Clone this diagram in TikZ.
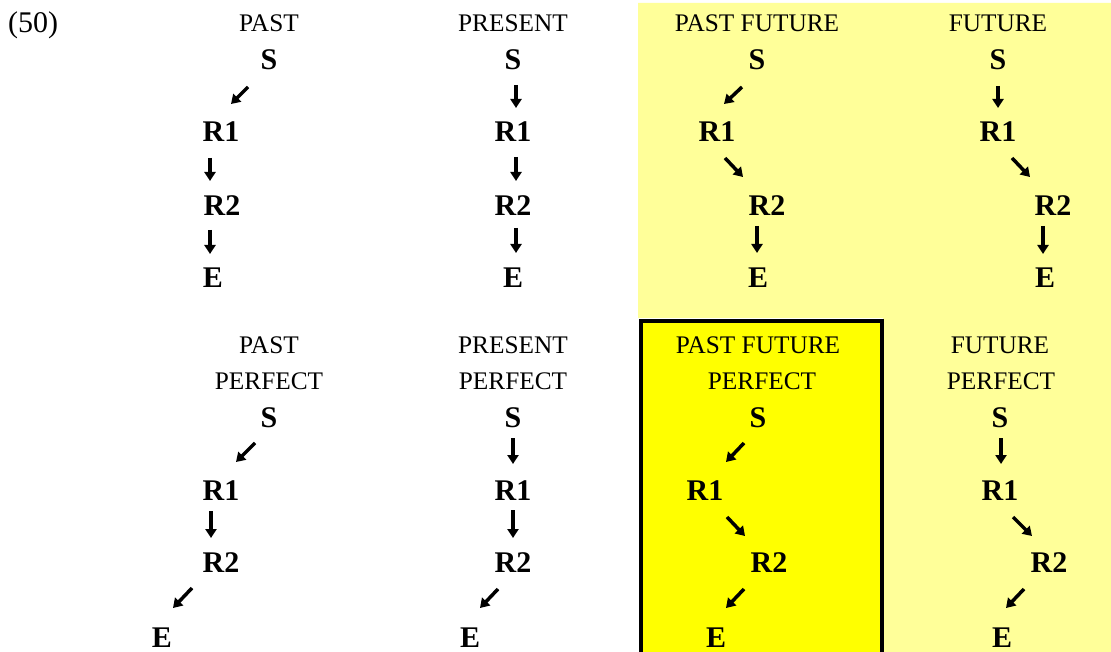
\documentclass[tikz,border=0pt]{standalone}
\usepackage{fontspec}
\setmainfont{Liberation Serif}
\usetikzlibrary{arrows.meta}
\definecolor{lightyel}{RGB}{255,255,153}
\definecolor{brightyel}{RGB}{255,255,0}
\newcommand\myarrow[3]{%
  \coordinate (#1s) at (#2);%
  \coordinate (#1e) at (#3);%
  \draw[arw] (#1s) -- (#1e);}
\begin{document}
\begin{tikzpicture}[x=1pt,y=-1pt,
  lab/.style={anchor=base,inner sep=0pt,font=\fontsize{25.3}{30}\selectfont},
  bl/.style={anchor=base,inner sep=0pt,font=\fontsize{30}{36}\selectfont\bfseries},
  arw/.style={line width=3.5pt,-{Triangle[width=11pt,length=9pt]}}]
\useasboundingbox (0,0) rectangle (1111,652);
% backgrounds
\fill[lightyel] (638,3) -- (1111,3) -- (1111,652) -- (883,652) -- (883,318) -- (638,318) -- cycle;
\fill[brightyel] (640,321) rectangle (881,652);
\draw[line width=4pt] (640.5,652) -- (640.5,321) -- (881.5,321) -- (881.5,652);
% number
\node[anchor=base west,inner sep=0pt,font=\fontsize{30}{34}\selectfont] (num) at (8,33) {(50)};
% ---------- top row ----------
% PAST
\node[lab] (aL) at (269,32) {PAST};
\node[bl] (aS) at (269,70) {S};
\node[bl] (aR1) at (221,142) {R1};
\node[bl] (aR2) at (222,216) {R2};
\node[bl] (aE) at (213,288) {E};
\myarrow{aa}{248,87}{231,104}
\myarrow{ab}{210,158}{210,181}
\myarrow{ac}{210,230}{210,254}
% PRESENT
\node[lab] (bL) at (513,32) {PRESENT};
\node[bl] (bS) at (513,70) {S};
\node[bl] (bR1) at (513,142) {R1};
\node[bl] (bR2) at (513,216) {R2};
\node[bl] (bE) at (513,288) {E};
\myarrow{ba}{516,85}{516,108}
\myarrow{bb}{516,157}{516,181}
\myarrow{bc}{516,228}{516,253}
% PAST FUTURE
\node[lab] (cL) at (757,32) {PAST FUTURE};
\node[bl] (cS) at (757,70) {S};
\node[bl] (cR1) at (717,142) {R1};
\node[bl] (cR2) at (767,216) {R2};
\node[bl] (cE) at (758,288) {E};
\myarrow{ca}{742,87}{724,104}
\myarrow{cb}{725,158}{743,177}
\myarrow{cc}{757,226}{757,253}
% FUTURE
\node[lab] (dL) at (998,32) {FUTURE};
\node[bl] (dS) at (998,70) {S};
\node[bl] (dR1) at (998,142) {R1};
\node[bl] (dR2) at (1053,216) {R2};
\node[bl] (dE) at (1045,288) {E};
\myarrow{da}{998,86}{998,108}
\myarrow{db}{1012,158}{1030,177}
\myarrow{dc}{1043,226}{1043,254}
% ---------- bottom row ----------
% PAST PERFECT
\node[lab] (eL) at (269,353) {PAST};
\node[lab] (eL2) at (269,389) {PERFECT};
\node[bl] (eS) at (269,427) {S};
\node[bl] (eR1) at (221,500) {R1};
\node[bl] (eR2) at (221,572) {R2};
\node[bl] (eE) at (162,647) {E};
\myarrow{ea}{255,443}{236,462}
\myarrow{eb}{211,511}{211,538}
\myarrow{ec}{192,588}{173,608}
% PRESENT PERFECT
\node[lab] (fL) at (513,353) {PRESENT};
\node[lab] (fL2) at (513,389) {PERFECT};
\node[bl] (fS) at (513,427) {S};
\node[bl] (fR1) at (513,500) {R1};
\node[bl] (fR2) at (513,572) {R2};
\node[bl] (fE) at (470,647) {E};
\myarrow{fa}{513,438}{513,464}
\myarrow{fb}{513,510}{513,538}
\myarrow{fc}{498,589}{480,608}
% PAST FUTURE PERFECT
\node[lab] (gL) at (758,353) {PAST FUTURE};
\node[lab] (gL2) at (762,389) {PERFECT};
\node[bl] (gS) at (758,427) {S};
\node[bl] (gR1) at (705,500) {R1};
\node[bl] (gR2) at (769,572) {R2};
\node[bl] (gE) at (716,647) {E};
\myarrow{ga}{744,443}{726,462}
\myarrow{gb}{727,517}{745,536}
\myarrow{gc}{744,589}{726,608}
% FUTURE PERFECT
\node[lab] (hL) at (1000,353) {FUTURE};
\node[lab] (hL2) at (1001,389) {PERFECT};
\node[bl] (hS) at (1000,427) {S};
\node[bl] (hR1) at (1000,500) {R1};
\node[bl] (hR2) at (1049,572) {R2};
\node[bl] (hE) at (1002,647) {E};
\myarrow{ha}{1001,438}{1001,464}
\myarrow{hb}{1013,517}{1032,536}
\myarrow{hc}{1024,589}{1006,608}
\end{tikzpicture}
\end{document}
